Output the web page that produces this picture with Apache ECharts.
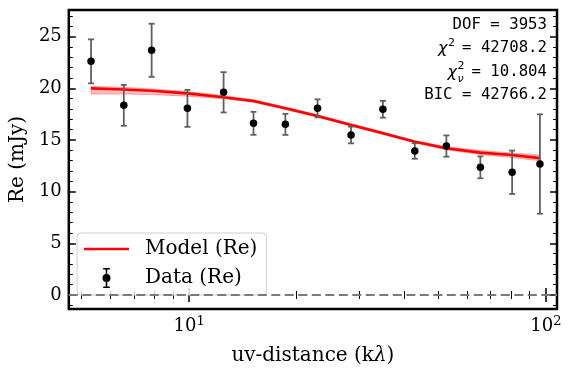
<!DOCTYPE html>
<html>
<head>
<meta charset="utf-8">
<title>Re vs uv-distance</title>
<script src="https://cdn.jsdelivr.net/npm/echarts@6.0.0/dist/echarts.min.js"></script>
<style>
  html, body { margin: 0; padding: 0; background: #fff; }
  #chart { width: 574px; height: 375px; }
</style>
</head>
<body>
<div id="chart"></div>
<script>
// uv-distance bins (kλ) and the real part of the visibilities (mJy)
const uvDist = [5.31, 6.56, 7.85, 9.89, 12.49, 15.15, 18.61, 22.9, 28.43, 34.92, 42.9, 52.6, 65.5, 80.4, 96.2];
const reData = [22.62, 18.36, 23.69, 18.07, 19.62, 16.62, 16.52, 18.07, 15.49, 17.98, 13.94, 14.42, 12.36, 11.88, 12.68];
const reErr = [2.13, 1.98, 2.57, 1.79, 1.95, 1.11, 1.02, 0.87, 0.81, 0.81, 0.75, 1.03, 1.06, 2.1, 4.81];

// model curve and its uncertainty band
const modelRe = [20.0, 19.9, 19.78, 19.52, 19.14, 18.78, 18.07, 17.33, 16.46, 15.65, 14.84, 14.2, 13.78, 13.55, 13.25];
const modelLow = [19.45, 19.45, 19.4, 19.25, 19.0, 18.65, 17.95, 17.2, 16.35, 15.55, 14.75, 14.05, 13.6, 13.3, 13.0];
const modelHigh = [20.2, 20.1, 19.95, 19.7, 19.3, 18.9, 18.2, 17.45, 16.6, 15.8, 14.95, 14.35, 14.0, 13.75, 13.55];

// axis ranges and ticks
const xRange = [4.6, 107.4];
const yRange = [-1.355, 27.59];
const xMajor = [10, 100];
const xMinor = [5, 6, 7, 8, 9, 20, 30, 40, 50, 60, 70, 80, 90];
const yMajor = [0, 5, 10, 15, 20, 25];
const yMinor = [-1, 1, 2, 3, 4, 6, 7, 8, 9, 11, 12, 13, 14, 16, 17, 18, 19, 21, 22, 23, 24, 26, 27];

// fit statistics
const fitStats = { dof: '3953', chi2: '42708.2', chi2nu: '10.804', bic: '42766.2' };

window.addEventListener('load', function () {
    const chart = echarts.init(document.getElementById('chart'));
    const serif = 'DejaVu Serif';
    const mono = 'DejaVu Sans Mono';
    const lg = Math.log10;

    // x is drawn on a value axis holding log10(uv)
    const xMin = lg(xRange[0]), xMax = lg(xRange[1]);

    function xAxisOf(pos, ticks, len, width, labels) {
        return {
            type: 'value', position: pos, min: xMin, max: xMax, gridIndex: 0,
            axisLine: { show: false },
            splitLine: { show: false },
            axisTick: {
                show: true, inside: true, length: len, customValues: ticks.map(lg),
                lineStyle: { color: '#000', width: width }
            },
            axisLabel: labels ? {
                show: true, margin: 6, customValues: xMajor.map(lg),
                formatter: v => '{b|10}{s|' + Math.round(v) + '}',
                rich: {
                    b: { fontFamily: serif, fontSize: 18, color: '#000', lineHeight: 22 },
                    s: { fontFamily: serif, fontSize: 13, color: '#000', lineHeight: 13, verticalAlign: 'top' }
                }
            } : { show: false }
        };
    }

    function yAxisOf(pos, ticks, len, width, labels) {
        return {
            type: 'value', position: pos, min: yRange[0], max: yRange[1], gridIndex: 0,
            axisLine: { show: false },
            splitLine: { show: false },
            axisTick: {
                show: true, inside: true, length: len, customValues: ticks,
                lineStyle: { color: '#000', width: width }
            },
            axisLabel: labels ? {
                show: true, margin: 7, customValues: yMajor,
                fontFamily: serif, fontSize: 18, color: '#000'
            } : { show: false }
        };
    }

    const xAxes = [
        xAxisOf('bottom', xMajor, 7, 1.5, true),
        xAxisOf('bottom', xMinor, 4, 1, false),
        xAxisOf('top', xMajor, 7, 1.5, false),
        xAxisOf('top', xMinor, 4, 1, false)
    ];
    xAxes[0].name = '{a|uv-distance (k}{l|λ}{a|)}';
    xAxes[0].nameLocation = 'middle';
    xAxes[0].nameGap = 37;
    xAxes[0].nameTextStyle = {
        rich: {
            a: { fontFamily: serif, fontSize: 20, color: '#000' },
            l: { fontFamily: serif, fontSize: 20, color: '#000', fontStyle: 'italic' }
        }
    };

    const yAxes = [
        yAxisOf('left', yMajor, 7, 1.5, true),
        yAxisOf('left', yMinor, 4, 1, false),
        yAxisOf('right', yMajor, 7, 1.5, false),
        yAxisOf('right', yMinor, 4, 1, false)
    ];
    yAxes[0].name = 'Re (mJy)';
    yAxes[0].nameLocation = 'middle';
    yAxes[0].nameGap = 40;
    yAxes[0].nameTextStyle = { fontFamily: serif, fontSize: 20, color: '#000' };

    const logUv = uvDist.map(lg);
    const errData = logUv.map((x, i) => [x, reData[i], reErr[i]]);
    const bandData = logUv.map((x, i) => [x, modelLow[i], modelHigh[i]]);

    function renderErr(params, api) {
        const x = api.value(0), y = api.value(1), e = api.value(2);
        const top = api.coord([x, y + e]);
        const bot = api.coord([x, y - e]);
        const style = { stroke: '#606060', lineWidth: 1.8 };
        const cap = 3;
        return {
            type: 'group',
            children: [
                { type: 'line', shape: { x1: top[0], y1: top[1], x2: bot[0], y2: bot[1] }, style: style },
                { type: 'line', shape: { x1: top[0] - cap, y1: top[1], x2: top[0] + cap, y2: top[1] }, style: style },
                { type: 'line', shape: { x1: bot[0] - cap, y1: bot[1], x2: bot[0] + cap, y2: bot[1] }, style: style }
            ]
        };
    }

    // the whole band is one polygon, drawn with the first item
    function renderBand(params, api) {
        if (params.dataIndex !== 0) return null;
        const upper = bandData.map(d => api.coord([d[0], d[2]]));
        const lower = bandData.map(d => api.coord([d[0], d[1]])).reverse();
        return {
            type: 'polygon',
            shape: { points: upper.concat(lower) },
            style: { fill: 'rgba(255,0,0,0.25)', stroke: 'rgba(255,0,0,0.3)', lineWidth: 1 }
        };
    }

    const statLines = [
        { y: 25, text: 'DOF = ' + fitStats.dof },
        { y: 48, text: ' = ' + fitStats.chi2 },
        { y: 72, text: ' = ' + fitStats.chi2nu },
        { y: 95, text: 'BIC = ' + fitStats.bic }
    ];
    const statRight = 547;
    const graphics = statLines.map(l => ({
        type: 'text', x: statRight, y: l.y, z: 10,
        style: { text: l.text, fontFamily: mono, fontSize: 15.7, fill: '#000', textAlign: 'right', textVerticalAlign: 'middle' }
    }));
    // chi symbols with super/subscripts
    const chiX2 = statRight - 9.45 * (' = ' + fitStats.chi2).length;
    const chiX3 = statRight - 9.45 * (' = ' + fitStats.chi2nu).length;
    graphics.push(
        { type: 'text', x: chiX2 - 5, y: 49, z: 10, style: { text: 'χ', fontFamily: 'DejaVu Sans', fontStyle: 'italic', fontSize: 16, fill: '#000', textAlign: 'right', textVerticalAlign: 'middle' } },
        { type: 'text', x: chiX2 - 4.5, y: 43, z: 10, style: { text: '2', fontFamily: 'DejaVu Sans', fontSize: 11, fill: '#000', textAlign: 'left', textVerticalAlign: 'middle' } },
        { type: 'text', x: chiX3 - 5, y: 73, z: 10, style: { text: 'χ', fontFamily: 'DejaVu Sans', fontStyle: 'italic', fontSize: 16, fill: '#000', textAlign: 'right', textVerticalAlign: 'middle' } },
        { type: 'text', x: chiX3 - 4.5, y: 66, z: 10, style: { text: '2', fontFamily: 'DejaVu Sans', fontSize: 11, fill: '#000', textAlign: 'left', textVerticalAlign: 'middle' } },
        { type: 'text', x: chiX3 - 4.5, y: 79, z: 10, style: { text: 'ν', fontFamily: 'DejaVu Sans', fontStyle: 'italic', fontSize: 11, fill: '#000', textAlign: 'left', textVerticalAlign: 'middle' } }
    );

    const option = {
        animation: false,
        backgroundColor: '#fff',
        grid: {
            left: 67, right: 17, top: 10, bottom: 66,
            show: true, borderColor: '#000', borderWidth: 2.5, backgroundColor: 'transparent'
        },
        xAxis: xAxes,
        yAxis: yAxes,
        legend: {
            orient: 'vertical', left: 77, top: 233,
            padding: [6, 9, 7, 7], itemGap: 9,
            itemWidth: 45, itemHeight: 20,
            backgroundColor: 'rgba(255,255,255,0.8)',
            borderColor: '#d0d0d0', borderWidth: 1, borderRadius: 4,
            textStyle: { fontFamily: serif, fontSize: 20, color: '#000', padding: [0, 0, 0, 11] },
            data: [
                { name: 'Model (Re)', icon: 'path://M0,0H45V2.6H0Z' },
                { name: 'Data (Re)', icon: 'path://M1,0H7V1.4H1Z M3.3,0H4.7V18H3.3Z M1,16.6H7V18H1Z M7.6,9A3.6,3.6,0,1,1,0.4,9A3.6,3.6,0,1,1,7.6,9Z' }
            ]
        },
        graphic: graphics,
        series: [
            {
                name: 'band', type: 'custom', renderItem: renderBand, silent: true,
                data: bandData, z: 2
            },
            {
                name: 'Model (Re)', type: 'line', symbol: 'none', color: '#ff0000',
                lineStyle: { color: '#ff0000', width: 2.6 },
                data: logUv.map((x, i) => [x, modelRe[i]]),
                z: 3
            },
            {
                name: 'errors', type: 'custom', renderItem: renderErr, silent: true,
                data: errData, z: 4,
                markLine: {
                    silent: true, symbol: 'none', label: { show: false },
                    lineStyle: { color: '#7a7a7a', type: [9, 4.5], width: 2 },
                    data: [{ yAxis: 0 }]
                }
            },
            {
                name: 'Data (Re)', type: 'scatter', symbol: 'circle', symbolSize: 7.5, color: '#000',
                itemStyle: { color: '#000', opacity: 1 },
                data: logUv.map((x, i) => [x, reData[i]]),
                z: 5
            }
        ]
    };
    chart.setOption(option);
});
</script>
</body>
</html>
